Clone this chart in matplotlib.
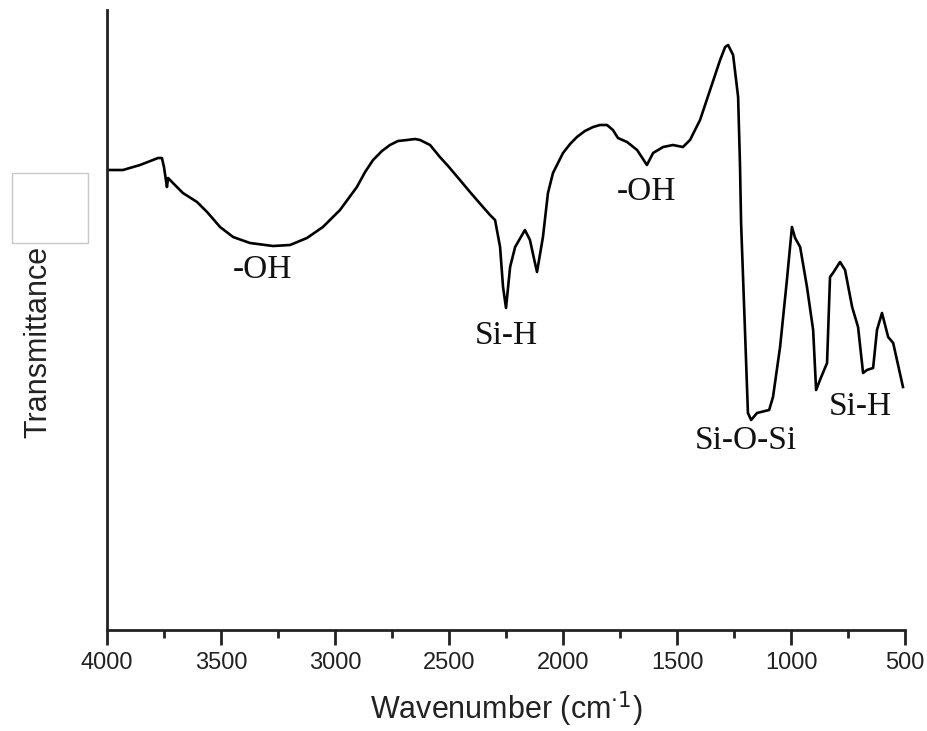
"""
FTIR 透过率谱图
"""

import matplotlib.pyplot as plt
from matplotlib.patches import Rectangle
from matplotlib.ticker import MultipleLocator

plt.switch_backend('agg')

# 波数 (cm-1) 与透过率 (任意单位)
wavenumber = [4000, 3930, 3855, 3776, 3759, 3750, 3737, 3732, 3715, 3667, 3605, 3561,
              3504, 3447, 3373, 3272, 3197, 3123, 3053, 2978, 2904, 2868, 2833, 2794,
              2759, 2724, 2684, 2649, 2627, 2583, 2540, 2504, 2452, 2408, 2351, 2320,
              2298, 2276, 2263, 2250, 2232, 2210, 2167, 2145, 2123, 2114, 2088, 2066,
              2044, 2000, 1969, 1939, 1904, 1868, 1838, 1807, 1781, 1759, 1719, 1675,
              1632, 1605, 1561, 1518, 1474, 1443, 1399, 1377, 1355, 1333, 1311, 1289,
              1276, 1254, 1232, 1224, 1219, 1202, 1189, 1175, 1149, 1096, 1079, 1048,
              1018, 996, 982, 960, 930, 903, 890, 873, 842, 829, 816, 785, 763, 732,
              706, 684, 667, 640, 623, 601, 574, 552, 509]
transmittance = [460, 460, 465, 472, 472, 463, 443, 452, 448, 437, 428, 418,
                 403, 393, 387, 384, 385, 392, 403, 420, 443, 458, 470, 479,
                 485, 489, 490, 491, 490, 485, 473, 464, 450, 438, 423, 415,
                 410, 383, 343, 322, 363, 383, 400, 390, 367, 358, 393, 437,
                 457, 477, 486, 493, 499, 503, 505, 505, 500, 492, 488, 480,
                 465, 477, 483, 485, 483, 490, 510, 525, 540, 555, 570, 583,
                 585, 575, 533, 467, 407, 300, 217, 210, 217, 220, 233, 283,
                 350, 403, 392, 383, 343, 300, 240, 250, 267, 353, 357, 368,
                 360, 323, 303, 257, 260, 262, 300, 317, 293, 287, 243]

# 峰位标注
peak_labels = ['-OH', 'Si-H', '-OH', 'Si-O-Si', 'Si-H']
label_x = [3320, 2250, 1635, 1200, 695]
label_y = [360, 294, 438, 189, 223]

fig = plt.figure(figsize=(9.27, 7.31), dpi=100)
ax = fig.add_axes([0.1154, 0.1382, 0.8609, 0.8481])

ax.plot(wavenumber, transmittance, color='black', linewidth=1.9)

for txt, x, y in zip(peak_labels, label_x, label_y):
    ax.text(x, y, txt, ha='center', va='center', fontsize=24,
            family='Liberation Serif', color='#111111')

ax.set_xlim(4000, 500)
ax.set_ylim(0, 620)
ax.xaxis.set_major_locator(MultipleLocator(500))
ax.xaxis.set_minor_locator(MultipleLocator(250))
ax.set_yticks([])

for side in ['top', 'right']:
    ax.spines[side].set_visible(False)
for side in ['left', 'bottom']:
    ax.spines[side].set_linewidth(2)
    ax.spines[side].set_color('#222222')

ax.tick_params(axis='x', which='major', length=11, width=2, direction='out',
               labelsize=17, colors='#222222', pad=5)
ax.tick_params(axis='x', which='minor', length=6, width=2, direction='out',
               colors='#222222')
for lab in ax.get_xticklabels():
    lab.set_family('Liberation Sans')

ax.set_xlabel('Wavenumber (cm$^{\\cdot1}$)', fontsize=22, family='Liberation Sans',
              labelpad=11, color='#222222')
fig.text(0.0415, 0.532, 'Transmittance', rotation=90, ha='center', va='center',
         fontsize=22, family='Liberation Sans', color='#222222')

# 左侧灰色方框
fig.patches.append(Rectangle((12 / 927, 1 - 243 / 731), 76 / 927, 70 / 731,
                             transform=fig.transFigure, fill=False,
                             edgecolor='#c8c8c8', linewidth=1))

plt.savefig('out.png', dpi=100)
plt.close()
